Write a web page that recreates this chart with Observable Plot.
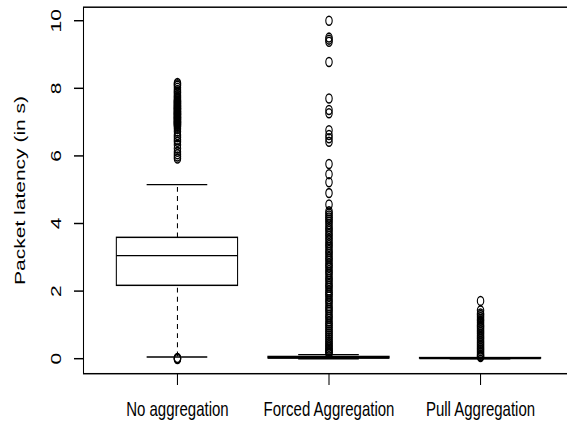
<!DOCTYPE html>
<html>
<head>
<meta charset="utf-8">
<script src="https://cdn.jsdelivr.net/npm/d3@7"></script>
<script src="https://cdn.jsdelivr.net/npm/@observablehq/plot@0.6"></script>
<style>
  html, body { margin: 0; padding: 0; background: white; overflow: hidden; }
</style>
</head>
<body>
<div id="chart"></div>
<script>
// ---- data ----
const categories = ["No aggregation", "Forced Aggregation", "Pull Aggregation"];
const q1 = [2.15, 0.005, 0.0];
const medians = [3.05, 0.02, 0.005];
const q3 = [3.57, 0.045, 0.012];
const lowWhisker = [0.05, 0.0, 0.0];
const highWhisker = [5.15, 0.12, 0.03];
const yTicks = [0, 2, 4, 6, 8, 10];
const yLabel = "Packet latency (in s)";

const outNoAgg = [8.16, 8.12, 8.08, 8.02, 7.95, 7.9, 7.86, 7.8, 7.76, 7.72, 7.68, 7.64, 7.62, 7.6, 7.57,
  7.55, 7.53, 7.5, 7.48, 7.46, 7.43, 7.41, 7.4, 7.38, 7.36, 7.33, 7.31, 7.3, 7.27, 7.25, 7.24, 7.22,
  7.2, 7.17, 7.15, 7.14, 7.12, 7.1, 7.08, 7.06, 7.03, 7.01, 7.0, 6.98, 6.96, 6.94, 6.92, 6.89, 6.86,
  6.8, 6.72, 6.62, 6.55, 6.48, 6.42, 6.33, 6.22, 6.12, 6.05, 5.98, 5.92,
  0.02, 0.01, 0.0, -0.01];
const outForced = [10.0, 9.5, 9.44, 9.38, 8.78, 7.7, 7.36, 7.26, 6.76, 6.62, 6.52, 6.42, 5.76, 5.46,
  5.22, 4.9, 4.56, 4.36, 4.3, 4.24, 4.18, 4.12, 4.05, 3.98, 3.9, 3.84, 3.78, 3.7, 3.64, 3.56, 3.5,
  3.42, 3.36, 3.3, 3.22, 3.16, 3.1, 3.02, 2.96, 2.9, 2.82, 2.76, 2.7, 2.62, 2.56, 2.5, 2.42, 2.36,
  2.3, 2.22, 2.16, 2.1, 2.02, 1.96, 1.9, 1.84, 1.76, 1.7, 1.64, 1.56, 1.5, 1.44, 1.38, 1.3, 1.24,
  1.18, 1.1, 1.04, 0.98, 0.92, 0.86, 0.8, 0.74, 0.68, 0.62, 0.56, 0.5, 0.45, 0.4, 0.35, 0.3, 0.26,
  0.22, 0.18, 0.15];
const outPull = [1.71, 1.43, 1.34, 1.29, 1.23, 1.17, 1.12, 1.06, 1.0, 0.95, 0.9, 0.84, 0.79, 0.74,
  0.68, 0.63, 0.58, 0.52, 0.47, 0.42, 0.37, 0.32, 0.27, 0.22, 0.17, 0.12, 0.08, 0.05];

// ---- derived tables ----
const boxes = categories.map((name, i) => ({
  pos: i + 1, name, q1: q1[i], med: medians[i], q3: q3[i], lo: lowWhisker[i], hi: highWhisker[i]
}));
const outliers = [outNoAgg, outForced, outPull].flatMap((arr, i) => arr.map(v => ({pos: i + 1, v})));

// The reference is stretched vertically (~1.4x); draw in inner units, then stretch the viewBox.
const W = 567, SCREEN_H = 430, STRETCH = 1.4;
const H = SCREEN_H / STRETCH;
const font = "Liberation Sans, Arial, Helvetica, sans-serif";
const sw = 1.05;

const svg = Plot.plot({
  width: W,
  height: H,
  marginLeft: 83,
  marginRight: -7,
  marginTop: 6.5 / STRETCH,
  marginBottom: H - 373 / STRETCH,
  x: {domain: [0.38, 3.62], axis: null, label: null},
  y: {domain: [-0.444, 10.4], axis: null, label: null},
  marks: [
    Plot.frame({stroke: "black", strokeWidth: sw}),
    Plot.axisY({ticks: yTicks, tickSize: 9, tickFormat: () => "", label: null, strokeWidth: sw, stroke: "black"}),
    Plot.axisX({ticks: [1, 2, 3], tickSize: 12 / STRETCH, tickFormat: () => "", label: null, strokeWidth: sw, stroke: "black"}),
    // whiskers (dashed)
    Plot.ruleX(boxes, {x: "pos", y1: "q3", y2: "hi", stroke: "black", strokeWidth: sw, strokeDasharray: "3.5,3"}),
    Plot.ruleX(boxes, {x: "pos", y1: "lo", y2: "q1", stroke: "black", strokeWidth: sw, strokeDasharray: "3.5,3"}),
    // staples
    Plot.ruleY(boxes, {y: "hi", x1: d => d.pos - 0.2, x2: d => d.pos + 0.2, stroke: "black", strokeWidth: sw}),
    Plot.ruleY(boxes, {y: "lo", x1: d => d.pos - 0.2, x2: d => d.pos + 0.2, stroke: "black", strokeWidth: sw}),
    // boxes
    Plot.rect(boxes, {x1: d => d.pos - 0.4, x2: d => d.pos + 0.4, y1: "q1", y2: "q3", fill: "white", stroke: "black", strokeWidth: sw}),
    Plot.ruleY(boxes, {y: "med", x1: d => d.pos - 0.4, x2: d => d.pos + 0.4, stroke: "black", strokeWidth: sw}),
    // outliers
    Plot.dot(outliers, {x: "pos", y: "v", r: 3.2, stroke: "black", strokeWidth: 1.1, fill: "none"}),
    // tick labels
    Plot.text(yTicks, {y: d => d, text: d => String(d), frameAnchor: "left", dx: -27, rotate: -90,
      textAnchor: "middle", lineAnchor: "middle", fontSize: 15, fontFamily: font, fill: "black"}),
    Plot.text(boxes, {x: "pos", text: "name", frameAnchor: "bottom", dy: 25.7, textAnchor: "middle",
      lineAnchor: "middle", fontSize: 15, fontFamily: font, fill: "black"}),
    Plot.text([yLabel], {text: d => d, frameAnchor: "left", dx: -63, rotate: -90, textAnchor: "middle",
      lineAnchor: "middle", fontSize: 15, fontFamily: font, fill: "black"})
  ]
});

svg.setAttribute("preserveAspectRatio", "none");
svg.setAttribute("height", SCREEN_H);
svg.style.height = SCREEN_H + "px";
svg.style.width = W + "px";
svg.style.maxWidth = "none";
document.getElementById("chart").appendChild(svg);
</script>
</body>
</html>
